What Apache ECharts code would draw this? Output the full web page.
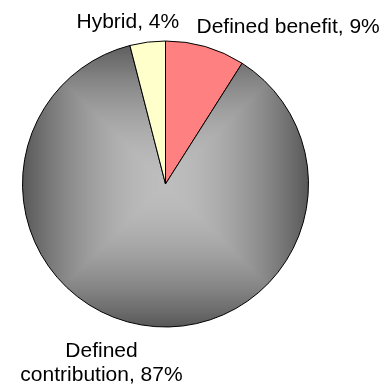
<!DOCTYPE html>
<html>
<head>
<meta charset="utf-8">
<script src="https://cdn.jsdelivr.net/npm/echarts@6/dist/echarts.min.js"></script>
<style>
  html, body { margin: 0; padding: 0; background: #ffffff; }
  #chart { width: 385px; height: 385px; }
</style>
</head>
<body>
<div id="chart"></div>
<script>
// Pension plan types, share of plans (%)
const planTypes = ['Defined benefit', 'Defined contribution', 'Hybrid'];
const planShares = [9, 87, 4];

const W = 385, H = 385;
const CX = 165.5, CY = 184, R = 143;

// Box-shaped "from centre" gradient (light centre, dark rim) painted into a canvas
function boxGradient() {
  const c = document.createElement('canvas');
  c.width = W; c.height = H;
  const ctx = c.getContext('2d');
  const img = ctx.createImageData(W, H);
  const light = 189, dark = 88;
  for (let y = 0; y < H; y++) {
    for (let x = 0; x < W; x++) {
      let t = Math.max(Math.abs(x + 0.5 - CX), Math.abs(y + 0.5 - CY)) / R;
      t = Math.min(1, t);
      const v = Math.round(light - (light - dark) * Math.pow(t, 1.8));
      const i = (y * W + x) * 4;
      img.data[i] = v; img.data[i + 1] = v; img.data[i + 2] = v; img.data[i + 3] = 255;
    }
  }
  ctx.putImageData(img, 0, 0);
  return c;
}

const sliceFills = ['#FF8080', { image: boxGradient(), repeat: 'no-repeat' }, '#FFFFCC'];

// Label anchor points for each slice
const labelSpots = [
  { x: 196.5, y: 27, align: 'left', verticalAlign: 'middle' },
  { x: 101.5, y: 363, align: 'center', verticalAlign: 'middle' },
  { x: 76.5, y: 22, align: 'left', verticalAlign: 'middle' }
];

const chart = echarts.init(document.getElementById('chart'), null, { renderer: 'canvas' });
chart.setOption({
  animation: false,
  backgroundColor: '#ffffff',
  series: [{
    type: 'pie',
    center: [CX, CY],
    radius: [0, R],
    startAngle: 90,
    clockwise: true,
    silent: true,
    percentPrecision: 0,
    avoidLabelOverlap: false,
    itemStyle: { borderColor: '#000000', borderWidth: 1 },
    label: {
      show: true,
      position: 'outside',
      color: '#000000',
      fontFamily: 'Liberation Sans, Arial, sans-serif',
      fontSize: 21,
      lineHeight: 24,
      overflow: 'none',
      width: 300,
      formatter: p => (p.dataIndex === 1 ? p.name.replace(' ', '\n') : p.name) + ', ' + p.percent + '%'
    },
    labelLine: { show: false },
    labelLayout: p => labelSpots[p.dataIndex],
    data: planTypes.map((n, i) => ({
      name: n,
      value: planShares[i],
      itemStyle: { color: sliceFills[i] }
    }))
  }]
});
</script>
</body>
</html>
